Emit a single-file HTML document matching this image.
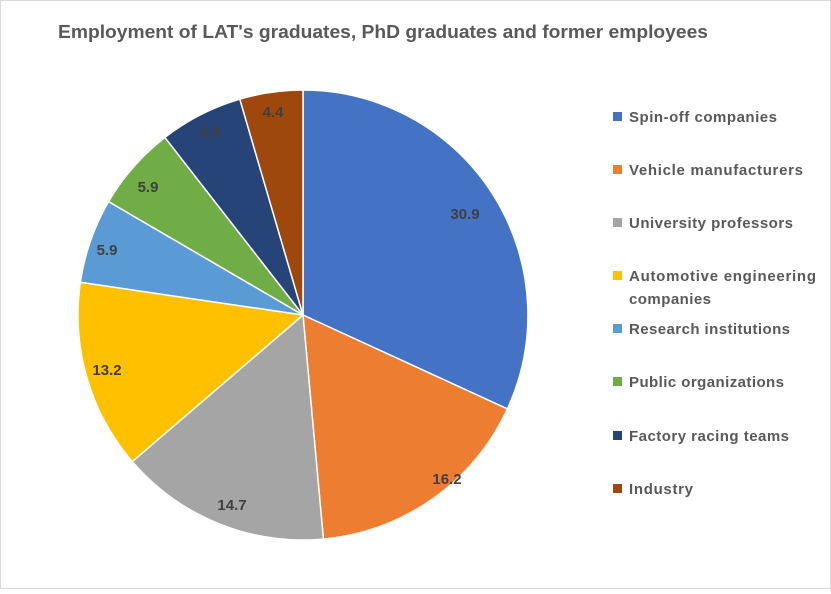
<!DOCTYPE html>
<html><head><meta charset="utf-8"><style>
html,body{margin:0;padding:0;background:#fff;}
</style></head><body>
<svg width="831" height="589" xmlns="http://www.w3.org/2000/svg" font-family="Liberation Sans, sans-serif">
<rect x="0.5" y="0.5" width="830" height="588" fill="#fff" stroke="#d9d9d9"/>
<text x="58" y="38" font-size="18" font-weight="bold" fill="#595959" textLength="650" lengthAdjust="spacingAndGlyphs">Employment of LAT's graduates, PhD graduates and former employees</text>
<g stroke="#fff" stroke-width="1.5" stroke-linejoin="round">
<path d="M303,315 L303,90 A225,225 0 0 1 507.4,408.9 Z" fill="#4472c4"/>
<path d="M303,315 L507.4,408.9 A225,225 0 0 1 323.4,539.1 Z" fill="#ed7d31"/>
<path d="M303,315 L323.4,539.1 A225,225 0 0 1 132.3,461.6 Z" fill="#a5a5a5"/>
<path d="M303,315 L132.3,461.6 A225,225 0 0 1 80.4,282.3 Z" fill="#ffc000"/>
<path d="M303,315 L80.4,282.3 A225,225 0 0 1 108.6,201.6 Z" fill="#5b9bd5"/>
<path d="M303,315 L108.6,201.6 A225,225 0 0 1 164.9,137.4 Z" fill="#70ad47"/>
<path d="M303,315 L164.9,137.4 A225,225 0 0 1 239.8,99.1 Z" fill="#264478"/>
<path d="M303,315 L239.8,99.1 A225,225 0 0 1 303,90 Z" fill="#9e480e"/>
</g>
<g font-size="15" font-weight="bold" fill="#404040" text-anchor="middle">
<text x="465" y="219">30.9</text>
<text x="447" y="484">16.2</text>
<text x="232" y="510">14.7</text>
<text x="107" y="375">13.2</text>
<text x="107" y="255">5.9</text>
<text x="148" y="192">5.9</text>
<text x="210" y="137">5.8</text>
<text x="273" y="117">4.4</text>
</g>
<g font-size="15" font-weight="bold" fill="#595959" lengthAdjust="spacingAndGlyphs">
<rect x="613" y="112" width="9" height="9" fill="#4472c4"/><text x="629" y="122" textLength="148">Spin-off companies</text>
<rect x="613" y="165" width="9" height="9" fill="#ed7d31"/><text x="629" y="175" textLength="174">Vehicle manufacturers</text>
<rect x="613" y="218" width="9" height="9" fill="#a5a5a5"/><text x="629" y="228" textLength="164">University professors</text>
<rect x="613" y="271" width="9" height="9" fill="#ffc000"/><text x="629" y="281" textLength="187">Automotive engineering</text><text x="629" y="304" textLength="82">companies</text>
<rect x="613" y="324" width="9" height="9" fill="#5b9bd5"/><text x="629" y="334" textLength="161">Research institutions</text>
<rect x="613" y="377" width="9" height="9" fill="#70ad47"/><text x="629" y="387" textLength="155">Public organizations</text>
<rect x="613" y="431" width="9" height="9" fill="#264478"/><text x="629" y="441" textLength="160">Factory racing teams</text>
<rect x="613" y="484" width="9" height="9" fill="#9e480e"/><text x="629" y="494" textLength="64">Industry</text>
</g>
</svg>
</body></html>
